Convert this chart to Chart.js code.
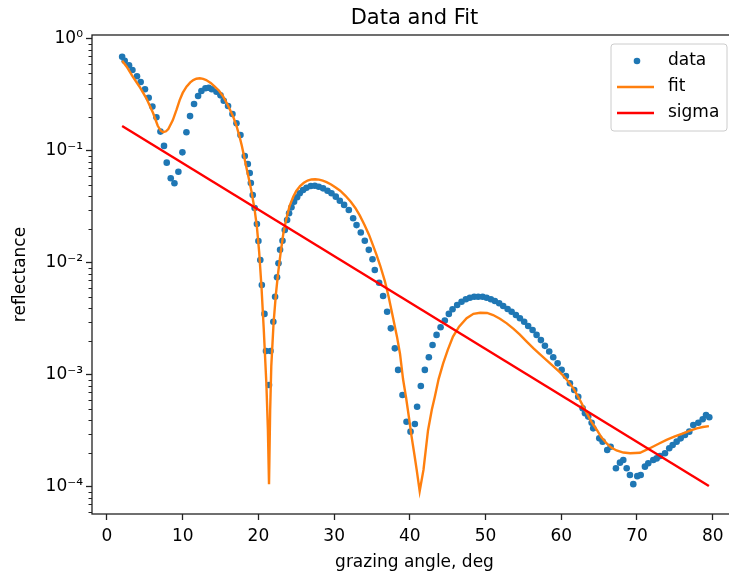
<!DOCTYPE html>
<html>
<head>
<meta charset="utf-8">
<script src="https://cdn.jsdelivr.net/npm/chart.js@4/dist/chart.umd.min.js"></script>
<style>
  html, body { margin: 0; padding: 0; background: #fff; overflow: hidden; width: 729px; height: 576px; }
  #wrap { position: absolute; left: 0; top: 0; width: 760px; height: 576px; }
</style>
</head>
<body>
<div id="wrap"><canvas id="c" width="760" height="576"></canvas></div>
<script>
// Measured reflectance vs grazing angle
const dataX = [
  2.0, 2.34, 2.91, 3.36, 3.96, 4.45, 5.02, 5.51, 6.0, 6.53,
  7.06, 7.53, 7.89, 8.42, 8.91, 9.43, 9.96, 10.49, 10.97, 11.5,
  12.03, 12.47, 13.0, 13.44, 13.84, 14.46, 14.99, 15.42, 15.99, 16.57,
  17.1, 17.63, 18.2, 18.6, 18.85, 19.0, 19.25, 19.5, 19.8, 20.0,
  20.25, 20.45, 20.8, 21.0, 21.4, 21.6, 21.97, 22.2, 22.46, 22.65,
  22.86, 23.18, 23.48, 23.79, 24.05, 24.37, 24.71, 25.11, 25.46, 25.9,
  26.35, 26.92, 27.45, 27.97, 28.54, 29.12, 29.65, 30.22, 30.75, 31.32,
  31.94, 32.51, 32.96, 33.52, 34.05, 34.58, 35.07, 35.37, 35.94, 36.47,
  37.0, 37.49, 38.02, 38.45, 39.03, 39.56, 40.09, 40.66, 40.96, 41.45,
  41.98, 42.51, 43.0, 43.53, 44.06, 44.62, 45.15, 45.64, 46.25, 46.83,
  47.4, 47.93, 48.5, 49.03, 49.61, 50.14, 50.7, 51.23, 51.8, 52.33,
  52.91, 53.44, 54.01, 54.54, 55.1, 55.63, 56.21, 56.74, 57.31, 57.84,
  58.41, 58.94, 59.52, 60.05, 60.61, 61.14, 61.71, 62.24, 62.82, 63.13,
  63.56, 64.01, 64.22, 65.02, 65.46, 66.07, 66.52, 67.22, 67.75, 68.19,
  68.64, 69.07, 69.51, 70.04, 70.49, 71.05, 71.49, 72.15, 72.6, 73.04,
  73.7, 74.26, 74.71, 75.24, 75.77, 76.34, 76.91, 77.44, 78.1, 78.68,
  79.12, 79.55
];
const dataY = [
  0.695, 0.640, 0.582, 0.529, 0.465, 0.413, 0.356, 0.299, 0.249, 0.200,
  0.149, 0.111, 0.0787, 0.0571, 0.0515, 0.0653, 0.0973, 0.147, 0.205, 0.263,
  0.310, 0.343, 0.363, 0.367, 0.356, 0.338, 0.314, 0.281, 0.252, 0.214,
  0.177, 0.139, 0.0902, 0.0765, 0.0636, 0.0518, 0.0405, 0.0310, 0.0223, 0.0157,
  0.01063, 0.00636, 0.00351, 0.00164, 0.000814, 0.00164, 0.00299, 0.0050, 0.00745, 0.00994,
  0.0131, 0.0158, 0.0197, 0.0242, 0.0278, 0.0314, 0.0353, 0.0386, 0.0419, 0.0449,
  0.0470, 0.0487, 0.0490, 0.0480, 0.0464, 0.0442, 0.0419, 0.0391, 0.0360, 0.0330,
  0.0297, 0.0251, 0.0218, 0.0187, 0.0158, 0.0131, 0.0108, 0.00866, 0.00667, 0.00507,
  0.00367, 0.00261, 0.00173, 0.00111, 0.000662, 0.000383, 0.000312, 0.000365, 0.000521, 0.000797,
  0.00111, 0.00144, 0.00185, 0.00228, 0.00267, 0.00306, 0.00351, 0.00386, 0.00422, 0.00451,
  0.00474, 0.00490, 0.00500, 0.00500, 0.00500, 0.00490, 0.00474, 0.00458, 0.00437, 0.00413,
  0.00388, 0.00367, 0.00343, 0.00321, 0.00299, 0.00274, 0.00252, 0.00228, 0.00205, 0.00182,
  0.00162, 0.00144, 0.00127, 0.00111, 0.00098, 0.000843, 0.000735, 0.00064, 0.000504, 0.000455,
  0.000425, 0.000375, 0.000334, 0.000272, 0.000254, 0.000214, 0.000229, 0.000147, 0.000165, 0.000174,
  0.000147, 0.000128, 0.000106, 0.000125, 0.000128, 0.000152, 0.000163, 0.000174, 0.000180, 0.000189,
  0.000200, 0.000222, 0.000237, 0.000254, 0.000272, 0.000291, 0.000312, 0.000358, 0.000375, 0.000402,
  0.000439, 0.000419
];

// Model fit curve
const fitX = [
  2.0, 2.6, 3.4, 4.3, 5.2, 6.1, 6.7, 7.1, 7.4, 7.8,
  8.1, 8.7, 9.2, 9.6, 10.0, 10.5, 11.0, 11.4, 11.8, 12.25,
  12.7, 13.1, 13.7, 14.2, 14.8, 15.3, 15.8, 16.2, 16.7, 17.1,
  17.5, 17.8, 18.1, 18.4, 18.8, 19.1, 19.5, 19.8, 20.1, 20.4,
  20.7, 21.05, 21.25, 21.4, 21.55, 21.7, 22.0, 22.3, 22.6, 22.9,
  23.3, 23.7, 24.1, 24.6, 25.0, 25.5, 26.0, 26.5, 27.0, 27.5,
  28.0, 28.5, 29.0, 29.6, 30.2, 30.8, 31.5, 32.2, 32.8, 33.4,
  34.0, 34.6, 35.1, 35.6, 36.1, 36.7, 37.2, 37.8, 38.3, 38.7,
  39.1, 39.5, 39.9, 40.2, 40.6, 40.9, 41.3, 41.8, 42.4, 42.9,
  43.3, 43.8, 44.4, 45.0, 45.7, 46.5, 47.5, 48.4, 49.3, 50.2,
  51.0, 51.9, 52.8, 53.7, 54.5, 55.4, 56.3, 57.2, 58.3, 59.0,
  59.8, 60.3, 61.0, 61.6, 62.0, 62.5, 63.3, 64.0, 64.7, 65.3,
  66.0, 66.6, 67.3, 68.2, 69.1, 70.4, 71.7, 72.8, 73.9, 75.0,
  76.1, 77.0, 77.9, 78.7, 79.5
];
const fitY = [
  0.64, 0.566, 0.461, 0.375, 0.295, 0.217, 0.168, 0.152, 0.147, 0.150,
  0.157, 0.189, 0.235, 0.285, 0.33, 0.375, 0.41, 0.43, 0.442, 0.446,
  0.44, 0.43, 0.405, 0.378, 0.345, 0.31, 0.27, 0.237, 0.2, 0.168,
  0.135, 0.112, 0.09, 0.072, 0.054, 0.043, 0.030, 0.021, 0.0125, 0.0062,
  0.0026, 0.00084, 0.00033, 0.000106, 0.00048, 0.0012, 0.0029, 0.0052, 0.0081, 0.0118,
  0.0185, 0.025, 0.032, 0.039, 0.044, 0.0485, 0.052, 0.0545, 0.0557, 0.056,
  0.0555, 0.0543, 0.0528, 0.0503, 0.0473, 0.0442, 0.0398, 0.0352, 0.031, 0.0265,
  0.022, 0.0179, 0.0146, 0.0118, 0.0094, 0.0069, 0.005, 0.0032, 0.0022, 0.00155,
  0.00092, 0.00063, 0.00041, 0.00029, 0.000195, 0.000143, 0.000092, 0.000142, 0.00032, 0.00049,
  0.00064, 0.00092, 0.00127, 0.00167, 0.0022, 0.0027, 0.00321, 0.00352, 0.0036, 0.00358,
  0.00343, 0.00318, 0.00289, 0.00258, 0.0023, 0.002, 0.00174, 0.00153, 0.00131, 0.00119,
  0.00106, 0.00098, 0.00086, 0.00076, 0.00068, 0.00059, 0.000465, 0.00038, 0.000323, 0.000278,
  0.000245, 0.000225, 0.000212, 0.000203, 0.0002, 0.000202, 0.000222, 0.000242, 0.000263, 0.000283,
  0.000301, 0.000318, 0.000334, 0.000343, 0.00035
];

// Roughness (sigma) trend line
const sigmaX = [2.0, 79.5];
const sigmaY = [0.167, 0.000102];

const seriesNames = ['data', 'fit', 'sigma'];
const xTicks = [0, 10, 20, 30, 40, 50, 60, 70, 80];
const yTicks = [1e-4, 1e-3, 1e-2, 1e-1, 1];
const yTickLabels = ['10\u207B\u2074', '10\u207B\u00B3', '10\u207B\u00B2', '10\u207B\u00B9', '10\u2070'];

const toPoints = (xs, ys) => xs.map((x, i) => ({ x: x, y: ys[i] }));

const FONT = "'DejaVu Sans', 'Liberation Sans', sans-serif";
Chart.defaults.font.family = FONT;
Chart.defaults.color = '#000';

// Axes frame, minor log ticks and the boxed legend in the upper right
const frameAndLegend = {
  id: 'frameAndLegend',
  afterDatasetsDraw(chart) {
    const ctx = chart.ctx;
    const a = chart.chartArea;
    const y = chart.scales.y;
    ctx.save();
    // minor ticks on the log axis
    ctx.strokeStyle = '#222';
    ctx.lineWidth = 1;
    for (let e = -5; e <= 0; e++) {
      for (let m = 2; m <= 9; m++) {
        const v = m * Math.pow(10, e);
        if (v < y.min || v > y.max) continue;
        const py = Math.round(y.getPixelForValue(v)) + 0.5;
        ctx.beginPath();
        ctx.moveTo(a.left - 3.5, py);
        ctx.lineTo(a.left, py);
        ctx.stroke();
      }
    }
    // frame
    ctx.lineWidth = 1.3;
    ctx.strokeRect(a.left, a.top, a.right - a.left, a.bottom - a.top);
    ctx.restore();
  },
  afterDraw(chart) {
    const ctx = chart.ctx;
    const a = chart.chartArea;
    const w = 116, h = 87, r = 3;
    const right = a.right - 10, top = a.top + 9, left = right - w;
    ctx.save();
    ctx.beginPath();
    ctx.moveTo(left + r, top);
    ctx.arcTo(right, top, right, top + h, r);
    ctx.arcTo(right, top + h, left, top + h, r);
    ctx.arcTo(left, top + h, left, top, r);
    ctx.arcTo(left, top, right, top, r);
    ctx.closePath();
    ctx.fillStyle = 'rgba(255,255,255,0.8)';
    ctx.fill();
    ctx.strokeStyle = '#cccccc';
    ctx.lineWidth = 1;
    ctx.stroke();
    ctx.font = '17px ' + FONT;
    ctx.textBaseline = 'middle';
    ctx.textAlign = 'left';
    chart.data.datasets.forEach((ds, i) => {
      const cy = top + 17 + i * 26;
      if (!ds.showLine) {
        ctx.beginPath();
        ctx.arc(left + 26, cy, 3.3, 0, Math.PI * 2);
        ctx.fillStyle = ds.backgroundColor;
        ctx.fill();
      } else {
        ctx.beginPath();
        ctx.moveTo(left + 6, cy);
        ctx.lineTo(left + 43, cy);
        ctx.strokeStyle = ds.borderColor;
        ctx.lineWidth = ds.borderWidth;
        ctx.stroke();
      }
      ctx.fillStyle = '#000';
      ctx.fillText(ds.label, left + 57, cy);
    });
    ctx.restore();
  }
};

new Chart(document.getElementById('c'), {
  type: 'scatter',
  data: {
    datasets: [
      {
        label: seriesNames[0],
        data: toPoints(dataX, dataY),
        showLine: false,
        pointRadius: 3.3,
        pointHoverRadius: 3.3,
        pointBorderWidth: 0,
        borderWidth: 0,
        backgroundColor: '#1f77b4',
        borderColor: '#1f77b4',
        order: 3
      },
      {
        label: seriesNames[1],
        data: toPoints(fitX, fitY),
        showLine: true,
        pointRadius: 0,
        borderColor: '#ff7f0e',
        backgroundColor: '#ff7f0e',
        borderWidth: 2.4,
        tension: 0,
        order: 2
      },
      {
        label: seriesNames[2],
        data: toPoints(sigmaX, sigmaY),
        showLine: true,
        pointRadius: 0,
        borderColor: '#ff0000',
        backgroundColor: '#ff0000',
        borderWidth: 2.4,
        tension: 0,
        order: 1
      }
    ]
  },
  options: {
    responsive: false,
    animation: false,
    devicePixelRatio: 1,
    events: [],
    layout: { padding: { left: 0, right: 23, top: 0, bottom: 0 } },
    plugins: {
      legend: { display: false },
      tooltip: { enabled: false },
      title: {
        display: true,
        text: 'Data and Fit',
        fullSize: false,
        color: '#000',
        font: { size: 21, weight: 'normal', family: FONT },
        padding: { top: 5.5, bottom: 4.3 }
      }
    },
    scales: {
      x: {
        type: 'linear',
        position: 'bottom',
        min: -1.98,
        max: 83.21,
        afterBuildTicks: s => { s.ticks = xTicks.map(v => ({ value: v })); },
        afterFit: s => { s.height = 62; },
        ticks: { color: '#000', font: { size: 17 }, padding: 6, maxRotation: 0, autoSkip: false, callback: v => String(v) },
        grid: { drawOnChartArea: false, drawTicks: true, tickLength: 6, tickWidth: 1.3, tickColor: '#222' },
        border: { display: false },
        title: { display: true, text: 'grazing angle, deg', color: '#000', font: { size: 17 }, padding: { top: 0, bottom: 3 } }
      },
      y: {
        type: 'logarithmic',
        position: 'left',
        min: 5.74e-5,
        max: 1.0856,
        afterBuildTicks: s => { s.ticks = yTicks.map(v => ({ value: v })); },
        afterFit: s => { s.width = 92; },
        ticks: { color: '#000', font: { size: 17 }, padding: 3, autoSkip: false, callback: v => yTickLabels[yTicks.indexOf(v)] },
        grid: { drawOnChartArea: false, drawTicks: true, tickLength: 6, tickWidth: 1.3, tickColor: '#222' },
        border: { display: false },
        title: { display: true, text: 'reflectance', color: '#000', font: { size: 17 }, padding: { top: 10, bottom: 0 } }
      }
    }
  },
  plugins: [frameAndLegend]
});
</script>
</body>
</html>
